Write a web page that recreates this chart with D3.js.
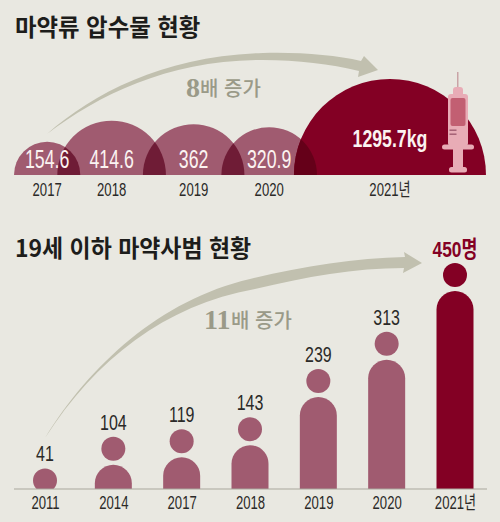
<!DOCTYPE html>
<html lang="ko">
<head>
<meta charset="utf-8">
<script src="https://cdn.jsdelivr.net/npm/d3@7/dist/d3.min.js"></script>
<style>
  html, body { margin: 0; padding: 0; background: #e9e8e1; }
  svg { display: block; }
  text { font-family: "Liberation Sans", "Noto Sans CJK KR", sans-serif; }
  .title { font-family: "Noto Sans CJK KR", sans-serif; font-weight: 700; font-size: 23.4px; fill: #1d1d1b; }
  .year { font-size: 18.5px; fill: #2b2a28; text-anchor: middle; }
  .count { font-size: 22.5px; fill: #2b2a28; text-anchor: middle; }
  .note { font-family: "Noto Sans CJK KR", sans-serif; font-weight: 500; font-size: 20px; fill: #9a9a88; }
  .mult { font-family: "Liberation Serif", serif; font-weight: 700; font-size: 28px; fill: #9a9a88; }
</style>
</head>
<body>
<svg id="chart" width="500" height="522" xmlns="http://www.w3.org/2000/svg"></svg>
<script>
// Seizure volume (kg) by year
const seizureYears = ["2017", "2018", "2019", "2020", "2021년"];
const seizureValues = [154.6, 414.6, 362, 320.9, 1295.7];
const seizureLabels = ["154.6", "414.6", "362", "320.9", "1295.7kg"];

// Offenders aged 19 or under
const offenderYears = ["2011", "2014", "2017", "2018", "2019", "2020", "2021년"];
const offenderValues = [41, 104, 119, 143, 239, 313, 450];
const offenderLabels = ["41", "104", "119", "143", "239", "313", "450명"];

const titles = ["마약류 압수물 현황", "19세 이하 마약사범 현황"];

const BG = "#e9e8e1", MAUVE = "#a05b70", WINE = "#830024";
const OVERLAP = "#6f1c36", OVERLAP_WINE = "#650019", ARROW = "#c1c0af";
const CONDENSE = 0.71, CONDENSE_BOLD = 0.77;

const svg = d3.select("#chart");
svg.append("rect").attr("width", 500).attr("height", 522).attr("fill", BG);
const defs = svg.append("defs");

svg.append("text").attr("class", "title").attr("x", 15).attr("y", 36).text(titles[0]);
svg.append("text").attr("class", "title")
  .attr("transform", "translate(15,257) scale(0.98,1)").text(titles[1]);

// Condensed numerals: regular faces squeezed horizontally around their anchor
const squeezed = (parent, cls, px, py, content, sx = CONDENSE) => parent.append("text")
  .attr("class", cls)
  .attr("transform", `translate(${px},${py}) scale(${sx},1)`)
  .text(content);

// Tapered sweep arrow: a hairline tail widening into a shaft with a triangular head
function sweep(p, color) {
  const path = d3.path();
  path.moveTo(...p.tail);
  path.bezierCurveTo(...p.upper);
  path.bezierCurveTo(...p.upper2);
  path.lineTo(...p.headTop);
  path.lineTo(...p.tip);
  path.lineTo(...p.headBottom);
  path.lineTo(...p.neckLow);
  path.bezierCurveTo(...p.lower2);
  path.bezierCurveTo(...p.lower);
  path.closePath();
  svg.append("path").attr("d", path.toString()).attr("fill", color);
}

/* ---------- Seizures: half discs on a common baseline ---------- */
const topBase = 175;
const radius = d3.scaleSqrt().domain([0, 1295.7]).range([0, 96]);
const shared = 23;   // width each disc shares with its neighbour
const centers = [];
seizureValues.forEach((v, i) => {
  const r = radius(v);
  centers.push(i === 0 ? 14 + r : centers[i - 1] + radius(seizureValues[i - 1]) + r - shared);
});
const halfDisc = d3.arc().innerRadius(0).startAngle(-Math.PI / 2).endAngle(Math.PI / 2);

sweep({
  tail: [47, 134],
  upper: [95, 92, 165, 56, 263, 53],
  upper2: [300, 52, 335, 55, 361, 61],
  headTop: [364, 56], tip: [378, 70], headBottom: [358, 77], neckLow: [359, 71],
  lower2: [330, 64, 298, 60, 263, 60],
  lower: [170, 60, 100, 94, 47, 134]
}, ARROW);

const discs = svg.append("g");
seizureValues.forEach((v, i) => {
  const d = halfDisc({ outerRadius: radius(v) });
  defs.append("clipPath").attr("id", `disc-${i}`)
    .append("path").attr("d", d).attr("transform", `translate(${centers[i]},${topBase})`);
  discs.append("path").attr("d", d)
    .attr("transform", `translate(${centers[i]},${topBase})`)
    .attr("fill", i === seizureValues.length - 1 ? WINE : MAUVE);
});
// Lens where neighbouring discs intersect
seizureValues.slice(1).forEach((v, i) => {
  discs.append("g").attr("clip-path", `url(#disc-${i + 1})`)
    .append("path").attr("d", halfDisc({ outerRadius: radius(seizureValues[i]) }))
    .attr("transform", `translate(${centers[i]},${topBase})`)
    .attr("fill", i === 3 ? OVERLAP_WINE : OVERLAP);
});

seizureValues.forEach((v, i) => {
  const last = i === seizureValues.length - 1;
  squeezed(svg, "", centers[i], last ? 147 : 168, seizureLabels[i], last ? CONDENSE_BOLD : CONDENSE)
    .attr("text-anchor", "middle")
    .attr("fill", "#fbf3f1")
    .attr("font-size", last ? 23 : 25)
    .attr("font-weight", last ? 700 : 400);
  squeezed(svg, "year", centers[i], 196, seizureYears[i]);
});

// Syringe standing on the 2021 disc
const syringe = svg.append("g").attr("fill", "#e8acb6");
syringe.append("rect").attr("x", 457).attr("y", 72).attr("width", 1.5).attr("height", 18).attr("fill", "#c9a3a6");
syringe.append("rect").attr("x", 453).attr("y", 87).attr("width", 10).attr("height", 10).attr("rx", 3);
syringe.append("rect").attr("x", 448).attr("y", 94).attr("width", 20).attr("height", 52).attr("rx", 3);
syringe.append("rect").attr("x", 442).attr("y", 144.5).attr("width", 32).attr("height", 5).attr("rx", 2.5);
syringe.append("rect").attr("x", 453).attr("y", 148).attr("width", 10).attr("height", 21);
syringe.append("rect").attr("x", 449).attr("y", 167).attr("width", 18).attr("height", 5.5).attr("rx", 2.5);
syringe.append("rect").attr("x", 450.5).attr("y", 98).attr("width", 15).attr("height", 28).attr("rx", 2).attr("fill", "#c25f72");
syringe.append("rect").attr("x", 449.5).attr("y", 129.5).attr("width", 7).attr("height", 1.4).attr("fill", "#a05b70");
syringe.append("rect").attr("x", 449.5).attr("y", 133.5).attr("width", 7).attr("height", 1.4).attr("fill", "#a05b70");

svg.append("text").attr("class", "mult").attr("x", 186).attr("y", 97).text("8");
svg.append("text").attr("class", "note").attr("x", 200).attr("y", 96).text("배 증가");

/* ---------- Offenders: figure made of a head and a rounded body ---------- */
const bottomBase = 489;
const x = d3.scalePoint().domain(offenderYears).range([45, 455]);
const y = d3.scaleLinear().domain([0, 450]).range([bottomBase, 263]);
const headR = 12, bodyHalf = 18.5, headToBody = 28;

sweep({
  tail: [45, 438],
  upper: [90, 365, 160, 300, 250, 279],
  upper2: [300, 267, 355, 258, 405, 257],
  headTop: [404, 252], tip: [422, 263], headBottom: [403, 273], neckLow: [404, 268],
  lower2: [355, 268, 305, 277, 255, 289],
  lower: [165, 305, 95, 360, 45, 438]
}, ARROW);

defs.append("clipPath").attr("id", "above-floor")
  .append("rect").attr("width", 500).attr("height", bottomBase);

const figures = svg.append("g").attr("clip-path", "url(#above-floor)");
offenderValues.forEach((v, i) => {
  const cx = x(offenderYears[i]);
  const color = i === offenderValues.length - 1 ? WINE : MAUVE;
  figures.append("circle")
    .attr("cx", cx).attr("cy", y(v) + headR).attr("r", headR).attr("fill", color);
  const bodyTop = y(v) + headToBody;
  if (bodyTop < bottomBase) {
    const b = d3.path();
    b.moveTo(cx - bodyHalf, bottomBase);
    const cap = Math.min(bodyHalf, bottomBase - bodyTop);
    b.lineTo(cx - bodyHalf, bodyTop + cap);
    b.bezierCurveTo(cx - bodyHalf, bodyTop + cap * 0.45, cx - bodyHalf * 0.55, bodyTop, cx, bodyTop);
    b.bezierCurveTo(cx + bodyHalf * 0.55, bodyTop, cx + bodyHalf, bodyTop + cap * 0.45, cx + bodyHalf, bodyTop + cap);
    b.lineTo(cx + bodyHalf, bottomBase);
    b.closePath();
    figures.append("path").attr("d", b.toString()).attr("fill", color);
  }
});

offenderValues.forEach((v, i) => {
  const last = i === offenderValues.length - 1;
  squeezed(svg, "count", x(offenderYears[i]), y(v) - (last ? 6 : 7), offenderLabels[i], last ? CONDENSE_BOLD : CONDENSE)
    .style("fill", last ? WINE : null)
    .style("font-weight", last ? 700 : null);
});

const axis = d3.axisBottom(x).tickSize(0).tickPadding(6);
const axisG = svg.append("g").attr("transform", `translate(0,${bottomBase})`).call(axis);
axisG.attr("font-family", null).attr("font-size", null);
axisG.select(".domain").remove();
axisG.selectAll("text").attr("class", "year").attr("y", 20).attr("dy", 0)
  .attr("transform", `scale(${CONDENSE},1)`);
axisG.append("line").attr("x1", 14).attr("x2", 487).attr("stroke", "#a9a79c").attr("stroke-width", 1);

svg.append("text").attr("class", "mult").attr("x", 204).attr("y", 329).text("11");
svg.append("text").attr("class", "note").attr("x", 231).attr("y", 328).text("배 증가");
</script>
</body>
</html>
